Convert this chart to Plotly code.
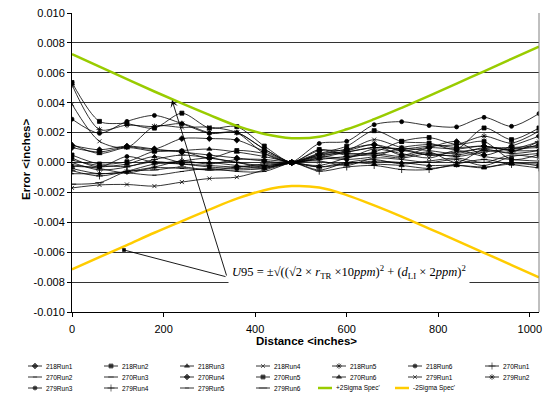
import plotly.graph_objects as go

W, H = 543, 394

# ---------------- data ----------------
distance = [0, 60, 120, 180, 240, 300, 360, 420, 480, 540, 600, 660, 720, 780, 840, 900, 960, 1020]

run_218_1 = [0.00100, 0.00070, 0.00105, 0.00090, 0.00160, 0.00160, 0.00150, 0.00075, 0.0, 0.00050, 0.00090, 0.00120, 0.00080, 0.00100, 0.00090, 0.00110, 0.00080, 0.00120]
run_218_2 = [0.00535, 0.00275, 0.00260, 0.00230, 0.00330, 0.00230, 0.00240, 0.00110, 0.0, 0.00060, 0.00109, 0.00213, 0.00140, 0.00130, 0.00090, 0.00231, 0.00153, 0.00231]
run_218_3 = [0.00120, 0.00060, 0.00100, 0.00075, 0.00080, 0.00090, 0.00070, 0.00040, 0.0, -0.00030, 0.00000, -0.00010, -0.00020, -0.00040, -0.00020, -0.00030, -0.00010, -0.00010]
run_218_4 = [0.00390, 0.00142, 0.00100, 0.00242, 0.00235, 0.00236, 0.00200, 0.00060, 0.0, 0.00040, 0.00080, 0.00153, 0.00100, 0.00080, 0.00060, 0.00100, 0.00090, 0.00140]
run_218_5 = [0.00520, 0.00220, 0.00250, 0.00240, 0.00260, 0.00200, 0.00200, 0.00090, 0.0, 0.00030, 0.00070, 0.00100, 0.00090, 0.00110, 0.00120, 0.00176, 0.00130, 0.00210]
run_218_6 = [0.00030, -0.00030, 0.00040, 0.00000, -0.00010, -0.00030, -0.00040, -0.00030, 0.0, 0.00127, 0.00142, 0.00253, 0.00273, 0.00247, 0.00238, 0.00302, 0.00242, 0.00327]
run_270_1 = [0.00000, -0.00050, -0.00030, 0.00020, 0.00050, 0.00030, 0.00000, -0.00020, 0.0, 0.00020, 0.00040, 0.00050, 0.00030, 0.00060, 0.00040, 0.00070, 0.00090, 0.00100]
run_270_2 = [-0.00015, -0.00040, -0.00070, -0.00035, -0.00040, -0.00050, -0.00050, -0.00040, 0.0, -0.00050, 0.00000, 0.00020, -0.00010, 0.00010, 0.00030, 0.00000, 0.00050, 0.00030]
run_270_3 = [0.00015, -0.00020, -0.00025, 0.00005, -0.00010, -0.00020, -0.00030, -0.00020, 0.0, 0.00050, 0.00060, 0.00060, 0.00080, 0.00050, 0.00070, 0.00090, 0.00060, 0.00080]
run_270_4 = [0.00115, 0.00085, 0.00110, 0.00090, 0.00070, 0.00050, 0.00030, 0.00010, 0.0, 0.00080, 0.00080, 0.00120, 0.00050, 0.00100, 0.00140, 0.00050, 0.00110, 0.00176]
run_270_5 = [0.00050, -0.00010, 0.00005, 0.00075, 0.00075, 0.00030, 0.00080, 0.00060, 0.0, 0.00087, 0.00050, 0.00070, 0.00142, 0.00167, 0.00120, 0.00140, 0.00020, 0.00053]
run_270_6 = [-0.00025, -0.00030, -0.00010, 0.00040, 0.00000, 0.00000, -0.00020, -0.00040, 0.0, -0.00030, -0.00010, 0.00009, 0.00000, -0.00020, -0.00018, -0.00036, 0.00000, -0.00024]
run_279_1 = [-0.00170, -0.00150, -0.00147, -0.00158, -0.00131, -0.00107, -0.00098, -0.00050, 0.0, 0.00040, 0.00030, 0.00090, 0.00060, 0.00030, 0.00080, 0.00040, 0.00020, 0.00009]
run_279_2 = [-0.00040, -0.00075, -0.00060, -0.00030, 0.00010, -0.00010, 0.00020, 0.00020, 0.0, -0.00020, 0.00030, 0.00060, 0.00040, 0.00070, 0.00000, 0.00090, 0.00100, 0.00109]
run_279_3 = [0.00290, 0.00195, 0.00275, 0.00315, 0.00260, 0.00195, 0.00200, 0.00090, 0.0, 0.00030, 0.00020, 0.00040, 0.00100, 0.00120, 0.00100, 0.00110, 0.00080, 0.00080]
run_279_4 = [-0.00055, -0.00090, -0.00058, -0.00010, 0.00010, 0.00030, 0.00000, -0.00030, 0.0, -0.00058, -0.00030, -0.00020, -0.00047, -0.00047, -0.00010, 0.00020, -0.00013, -0.00036]
run_279_5 = [-0.00075, -0.00075, -0.00070, -0.00085, -0.00060, -0.00040, -0.00060, -0.00060, 0.0, 0.00010, -0.00020, 0.00030, 0.00020, 0.00000, 0.00020, -0.00020, 0.00040, 0.00060]
run_279_6 = [-0.00145, -0.00135, -0.00060, -0.00050, -0.00030, -0.00050, -0.00030, -0.00010, 0.0, 0.00060, 0.00070, 0.00100, 0.00090, 0.00050, 0.00050, 0.00080, 0.00070, 0.00140]

plus_2sigma = [0.00725, 0.00641, 0.00558, 0.00475, 0.00395, 0.00318, 0.00245, 0.00191, 0.00163, 0.00172, 0.00222, 0.00290, 0.00366, 0.00446, 0.00528, 0.00610, 0.00693, 0.00775]
minus_2sigma = [-0.00715, -0.00633, -0.00552, -0.00470, -0.00392, -0.00315, -0.00242, -0.00185, -0.00158, -0.00167, -0.00218, -0.00287, -0.00362, -0.00442, -0.00522, -0.00604, -0.00686, -0.00768]

run_names = ["218Run1", "218Run2", "218Run3", "218Run4", "218Run5", "218Run6",
             "270Run1", "270Run2", "270Run3", "270Run4", "270Run5", "270Run6",
             "279Run1", "279Run2", "279Run3", "279Run4", "279Run5", "279Run6"]
run_values = [run_218_1, run_218_2, run_218_3, run_218_4, run_218_5, run_218_6,
              run_270_1, run_270_2, run_270_3, run_270_4, run_270_5, run_270_6,
              run_279_1, run_279_2, run_279_3, run_279_4, run_279_5, run_279_6]
sigma_names = ["+2Sigma Spec'", "-2Sigma Spec'"]

x_tick_values = [0, 200, 400, 600, 800, 1000]
x_tick_labels = ["0", "200", "400", "600", "800", "1000"]
y_tick_values = [-0.010, -0.008, -0.006, -0.004, -0.002, 0.0, 0.002, 0.004, 0.006, 0.008, 0.010]
y_tick_labels = ["-0.010", "-0.008", "-0.006", "-0.004", "-0.002", "0.000",
                 "0.002", "0.004", "0.006", "0.008", "0.010"]

# ---------------- styles ----------------
marker_styles = {
    "218Run1": ("diamond", 4.5), "218Run2": ("square", 4), "218Run3": ("triangle-up", 4.5),
    "218Run4": ("x-thin-open", 4), "218Run5": ("asterisk-open", 5), "218Run6": ("circle", 4),
    "270Run1": ("cross-thin-open", 5), "270Run2": ("line-ew-open", 3), "270Run3": ("line-ew-open", 4),
    "270Run4": ("diamond", 4.5), "270Run5": ("square", 4), "270Run6": ("triangle-up", 4.5),
    "279Run1": ("x-thin-open", 4), "279Run2": ("asterisk-open", 5), "279Run3": ("circle", 4),
    "279Run4": ("cross-thin-open", 5), "279Run5": ("line-ew-open", 3), "279Run6": ("line-ew-open", 6),
}
GREEN = "#99CC00"
YELLOW = "#FFCC00"
FONT = "Arial, Liberation Sans, sans-serif"


def px(x):
    return x / W


def py(y):
    return 1 - y / H


PLOT_L, PLOT_R, PLOT_T, PLOT_B = 72, 539, 13, 312
X_MAX = 1020

fig = go.Figure()

for name, vals in zip(run_names, run_values):
    sym, sz = marker_styles[name]
    fig.add_trace(go.Scatter(
        x=distance, y=vals, name=name, mode="lines+markers",
        line=dict(color="black", width=0.8, shape="spline", smoothing=0.8),
        marker=dict(symbol=sym, size=sz, color="black", line=dict(color="black", width=0.8)),
        xaxis="x", yaxis="y", showlegend=False))

for name, vals, col in zip(sigma_names, [plus_2sigma, minus_2sigma], [GREEN, YELLOW]):
    fig.add_trace(go.Scatter(
        x=distance, y=vals, name=name, mode="lines",
        line=dict(color=col, width=2.5, shape="spline", smoothing=1.0),
        xaxis="x", yaxis="y", showlegend=False))

# ---------------- custom legend (pixel axis) ----------------
LEG_TOP = 356
legend_rows = [
    [(n, None) for n in run_names[0:7]],
    [(n, None) for n in run_names[7:14]],
    [(n, None) for n in run_names[14:18]] + [(sigma_names[0], GREEN), (sigma_names[1], YELLOW)],
]
row_y = [366, 377, 388]
col_x = [[28, 104, 180, 256, 332, 408, 485],
         [28, 104, 180, 256, 332, 408, 485],
         [28, 104, 180, 256, 318, 395]]
SAMPLE = 14
annotations = []
for r, row in enumerate(legend_rows):
    for c, (name, col) in enumerate(row):
        x0 = col_x[r][c]
        yy = row_y[r]
        if col is None:
            sym, sz = marker_styles[name]
            fig.add_trace(go.Scatter(
                x=[x0, x0 + SAMPLE / 2, x0 + SAMPLE], y=[yy, yy, yy], mode="lines+markers",
                line=dict(color="black", width=0.8),
                marker=dict(symbol=sym, size=[0, sz, 0], color="black",
                            line=dict(color="black", width=0.8)),
                xaxis="x2", yaxis="y2", showlegend=False, hoverinfo="skip"))
        else:
            fig.add_trace(go.Scatter(
                x=[x0, x0 + SAMPLE], y=[yy, yy], mode="lines",
                line=dict(color=col, width=2.5),
                xaxis="x2", yaxis="y2", showlegend=False, hoverinfo="skip"))
        annotations.append(dict(
            x=x0 + SAMPLE + 1.5, y=yy, xref="x2", yref="y2", text=name, showarrow=False,
            xanchor="left", yanchor="middle", font=dict(family=FONT, size=6.5, color="black")))

# ---------------- axis titles ----------------
annotations.append(dict(x=px(18), y=py(160), xref="paper", yref="paper",
                        text="<b>Error &lt;inches&gt;</b>", textangle=-90, showarrow=False,
                        font=dict(family=FONT, size=11.5, color="black")))
annotations.append(dict(x=px(306), y=py(349), xref="paper", yref="paper",
                        text="<b>Distance &lt;inches&gt;</b>", showarrow=False,
                        font=dict(family=FONT, size=11.5, color="black")))

# ---------------- formula callout ----------------
def to_data_x(p):
    return (p - PLOT_L) / (PLOT_R - PLOT_L) * X_MAX


def to_data_y(p):
    return 0.010 - (p - PLOT_T) / (PLOT_B - PLOT_T) * 0.020


tail = (to_data_x(227), to_data_y(277))
annotations.append(dict(x=to_data_x(172), y=to_data_y(100), xref="x", yref="y",
                        ax=tail[0], ay=tail[1], axref="x", ayref="y", text="",
                        showarrow=True, arrowhead=3, arrowsize=1.4, arrowwidth=0.9,
                        arrowcolor="black", standoff=0))
annotations.append(dict(x=to_data_x(124), y=to_data_y(250), xref="x", yref="y",
                        ax=tail[0], ay=tail[1], axref="x", ayref="y", text="",
                        showarrow=True, arrowhead=7, arrowsize=1.0, arrowwidth=0.9,
                        arrowcolor="black", standoff=0))
annotations.append(dict(
    x=px(349), y=py(285), xref="paper", yref="paper", showarrow=False,
    text=("<i>U</i>95 = ±√((√2 × <i>r</i><sub>TR</sub> ×10<i>ppm</i>)<sup>2</sup>"
          " + (<i>d</i><sub>LI</sub> × 2<i>ppm</i>)<sup>2</sup>"),
    bgcolor="white", borderpad=3,
    font=dict(family="Times New Roman, Liberation Serif, serif", size=12.5, color="black")))

shapes = [
    dict(type="line", xref="x domain", yref="y domain", x0=1, x1=1, y0=0, y1=1,
         line=dict(color="#808080", width=1)),
    dict(type="line", xref="paper", yref="paper", x0=px(284), x1=px(468), y0=py(274), y1=py(274),
         line=dict(color="black", width=0.8)),
]

fig.update_layout(
    width=W, height=H, margin=dict(l=0, r=0, t=0, b=0),
    paper_bgcolor="white", plot_bgcolor="white", showlegend=False,
    font=dict(family=FONT, color="black"),
    xaxis=dict(domain=[px(PLOT_L), px(PLOT_R)], range=[0, X_MAX], anchor="y",
               tickvals=x_tick_values, ticktext=x_tick_labels, ticks="outside", ticklen=4,
               tickcolor="black", showline=True, linecolor="black", linewidth=1,
               showgrid=False, zeroline=False, automargin=False, ticklabelstandoff=3,
               tickfont=dict(family=FONT, size=11, color="black")),
    yaxis=dict(domain=[py(PLOT_B), py(PLOT_T)], range=[-0.010, 0.010], anchor="x",
               tickvals=y_tick_values, ticktext=y_tick_labels, ticks="outside", ticklen=4,
               tickcolor="black", showline=True, linecolor="black", linewidth=1,
               showgrid=True, gridcolor="#333333", gridwidth=1, zeroline=False, automargin=False,
               tickfont=dict(family=FONT, size=11, color="black")),
    xaxis2=dict(domain=[0, 1], range=[0, W], anchor="y2", visible=False, fixedrange=True),
    yaxis2=dict(domain=[0, py(LEG_TOP)], range=[H, LEG_TOP], anchor="x2", visible=False,
                fixedrange=True),
    annotations=annotations, shapes=shapes,
)

fig.write_html("out.html")
